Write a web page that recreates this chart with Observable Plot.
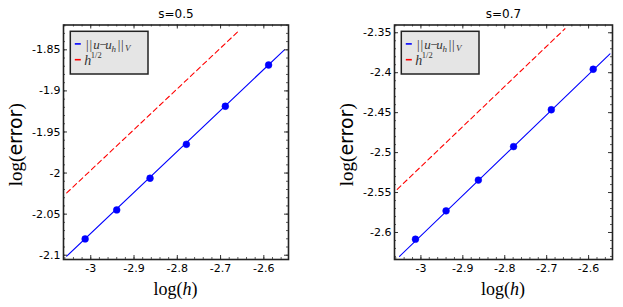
<!DOCTYPE html>
<html><head><meta charset="utf-8">
<script src="https://cdn.jsdelivr.net/npm/d3@7"></script>
<script src="https://cdn.jsdelivr.net/npm/@observablehq/plot@0.6"></script>
<style>
body{margin:0;background:#fff;}
#wrap{position:relative;width:623px;height:307px;overflow:hidden;}
#wrap svg{position:absolute;top:0;}
</style></head><body><div id="wrap"></div>
<script>
// ---- data ----
const logH = [-3.013, -2.940, -2.863, -2.779, -2.689, -2.589];
const errS05 = [-2.0802, -2.0449, -2.0063, -1.9650, -1.9187, -1.8685];
const errS07 = [-2.6084, -2.5729, -2.5344, -2.4925, -2.4464, -2.3957];
const fitX05 = [-3.0556, -2.5525];
const fitY05 = [-2.1012, -1.8500];
const refX05 = [-3.0556, -2.6583];
const refY05 = [-2.0242, -1.8271];
const fitX07 = [-3.051, -2.549];
const fitY07 = [-2.6298, -2.3764];
const refX07 = [-3.0565, -2.6565];
const refY07 = [-2.546, -2.345];
const xTicks = [-3, -2.9, -2.8, -2.7, -2.6];
const yTicks05 = [-1.85, -1.9, -1.95, -2, -2.05, -2.1];
const yTicks07 = [-2.35, -2.4, -2.45, -2.5, -2.55, -2.6];
const titles = ["s=0.5", "s=0.7"];
const xDomain = [-3.063, -2.543];
const yDomain05 = [-2.1052, -1.8198];
const yDomain07 = [-2.6338, -2.3403];

const BLUE = "#0000ff", RED = "#ff0000", INK = "#333";
const H = 307, MT = 24.5, MB = 48;
const wrap = document.getElementById("wrap");

function panel({left, width, ml, mr, yDomain, yTicks, err, fitX, fitY, refX, refY, title, ylabX}) {
  const fh = H - MT - MB, fw = width - ml - mr;
  const pts = logH.map((x, i) => ({x, y: err[i]}));
  const fit = fitX.map((x, i) => ({x, y: fitY[i]}));
  const ref = refX.map((x, i) => ({x, y: refY[i]}));
  const xMinor = d3.range(Math.round(xDomain[0]*50), Math.round(xDomain[1]*50)+1).map(k => k/50).filter(v => v >= xDomain[0] && v <= xDomain[1]);
  const yMinor = d3.range(Math.ceil(yDomain[0]*100), Math.floor(yDomain[1]*100)+1).map(k => k/100);
  const svg = Plot.plot({
    width, height: H, marginLeft: ml, marginRight: mr, marginTop: MT, marginBottom: MB,
    style: {fontFamily: "DejaVu Sans", fontSize: "11px", background: "transparent", color: "#000"},
    x: {domain: xDomain},
    y: {domain: yDomain},
    marks: [
      Plot.line(ref, {x: "x", y: "y", stroke: RED, strokeWidth: 1.1, strokeDasharray: "5,3.5"}),
      Plot.line(fit, {x: "x", y: "y", stroke: BLUE, strokeWidth: 1.1}),
      Plot.dot(pts, {x: "x", y: "y", r: 3.4, fill: BLUE, stroke: BLUE, strokeWidth: 0.5}),
      // inward ticks on all four sides
      Plot.tickX(xTicks, {x: d => d, insetTop: fh - 4, stroke: INK}),
      Plot.tickX(xTicks, {x: d => d, insetBottom: fh - 4, stroke: INK}),
      Plot.tickX(xMinor, {x: d => d, insetTop: fh - 2, stroke: INK, strokeWidth: 0.8}),
      Plot.tickX(xMinor, {x: d => d, insetBottom: fh - 2, stroke: INK, strokeWidth: 0.8}),
      Plot.tickY(yTicks, {y: d => d, insetRight: fw - 4, stroke: INK}),
      Plot.tickY(yTicks, {y: d => d, insetLeft: fw - 4, stroke: INK}),
      Plot.tickY(yMinor, {y: d => d, insetRight: fw - 2, stroke: INK, strokeWidth: 0.8}),
      Plot.tickY(yMinor, {y: d => d, insetLeft: fw - 2, stroke: INK, strokeWidth: 0.8}),
      Plot.frame({stroke: "#222", strokeWidth: 1.6}),
      Plot.axisX(xTicks, {tickSize: 0, tickPadding: 5, tickFormat: d => String(d), label: null}),
      Plot.axisY(yTicks, {tickSize: 0, tickPadding: 3, tickFormat: d => String(d), label: null}),
      Plot.text([title], {text: d => d, frameAnchor: "top", dy: -10.5, fontSize: 12, lineAnchor: "middle"})
    ]
  });
  svg.style.left = left + "px";
  wrap.appendChild(svg);
  const s = d3.select(svg);
  const cx = ml + fw / 2;
  // x label log(h)
  const xl = s.append("text").attr("x", cx).attr("y", 295).attr("text-anchor", "middle")
    .attr("font-family", "Liberation Serif").attr("font-size", 18).attr("fill", "#000");
  xl.append("tspan").text("log(");
  xl.append("tspan").attr("font-style", "italic").text("h");
  xl.append("tspan").text(")");
  // y label log(error)
  const yl = s.append("text").attr("transform", `translate(${ylabX},${MT + fh / 2 + 3}) rotate(-90)`)
    .attr("text-anchor", "middle").attr("dy", "0.35em").attr("font-size", 19).attr("fill", "#000");
  yl.append("tspan").attr("font-family", "Liberation Serif").text("log(");
  yl.append("tspan").attr("font-family", "DejaVu Sans").text("error");
  yl.append("tspan").attr("font-family", "Liberation Serif").text(")");
  // legend
  const g = s.append("g").attr("transform", `translate(${ml + 7.3},31.3)`).attr("text-anchor", "start");
  g.append("rect").attr("width", 77.7).attr("height", 42.7).attr("fill", "#e5e5e5").attr("stroke", "#222").attr("stroke-width", 1.5);
  g.append("line").attr("x1", 4.5).attr("x2", 10.5).attr("y1", 12.6).attr("y2", 12.6).attr("stroke", BLUE).attr("stroke-width", 1.6);
  g.append("line").attr("x1", 4.5).attr("x2", 10.5).attr("y1", 28.4).attr("y2", 28.4).attr("stroke", RED).attr("stroke-width", 1.6);
  const t1 = g.append("text").attr("y", 18.2).attr("text-anchor", "start").attr("font-family", "Liberation Serif").attr("font-size", 13).attr("fill", "#333");
  t1.append("tspan").attr("x", 15.7).attr("letter-spacing", 0.8).text("||");
  t1.append("tspan").attr("x", 23).attr("font-style", "italic").text("u");
  t1.append("tspan").attr("x", 29).text("−");
  t1.append("tspan").attr("x", 35).attr("font-style", "italic").text("u");
  t1.append("tspan").attr("x", 41.3).attr("dy", 2.5).attr("font-style", "italic").attr("font-size", 9).text("h");
  t1.append("tspan").attr("x", 47.4).attr("dy", -2.5).attr("letter-spacing", 0.8).text("||");
  t1.append("tspan").attr("x", 54.7).attr("dy", 2).attr("font-style", "italic").attr("font-size", 9).text("V");
  const t2 = g.append("text").attr("y", 33.6).attr("text-anchor", "start").attr("font-family", "Liberation Serif").attr("font-size", 14).attr("fill", "#333");
  t2.append("tspan").attr("x", 14).attr("font-style", "italic").text("h");
  t2.append("tspan").attr("x", 20.5).attr("dy", -7).attr("font-size", 8.5).text("1/2");
}

panel({left: 0, width: 311, ml: 63, mr: 23, yDomain: yDomain05, yTicks: yTicks05, err: errS05,
  fitX: fitX05, fitY: fitY05, refX: refX05, refY: refY05, title: titles[0], ylabX: 15.5});
panel({left: 311, width: 312, ml: 83, mr: 11, yDomain: yDomain07, yTicks: yTicks07, err: errS07,
  fitX: fitX07, fitY: fitY07, refX: refX07, refY: refY07, title: titles[1], ylabX: 35.7});
</script></body></html>
